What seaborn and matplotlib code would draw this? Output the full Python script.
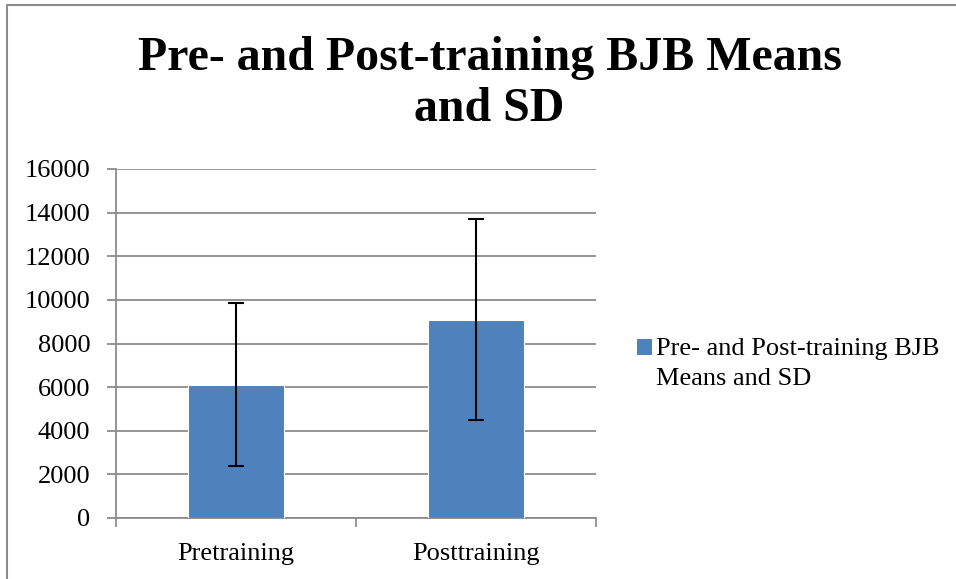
import numpy as np
import matplotlib
matplotlib.use('Agg')
import matplotlib.pyplot as plt
from matplotlib.patches import Patch, Rectangle
from matplotlib.legend_handler import HandlerPatch
from matplotlib.lines import Line2D
import pandas as pd
import seaborn as sns

# =========================
# DATA
# =========================
categories = ['Pretraining', 'Posttraining']
means = [6115, 9090]
sds = [3740, 4610]
series_label = 'Pre- and Post-training BJB\nMeans and SD'
title = 'Pre- and Post-training BJB Means\nand SD'

bar_color = '#4F81BD'
grid_color = '#8C8C8C'

df = pd.DataFrame({'phase': categories, 'value': means})

# =========================
# PLOTTING SETUP
# =========================
sns.set_theme('paper')
sns.set_style('white')
plt.rcParams['font.family'] = ['Liberation Serif', 'DejaVu Serif']
plt.rcParams['text.color'] = 'black'
plt.rcParams['xtick.color'] = 'black'
plt.rcParams['ytick.color'] = 'black'

fig = plt.figure(figsize=(9.56, 5.79), dpi=100)
ax = fig.add_axes([116 / 956, 61 / 579, 480 / 956, 349 / 579])

sns.barplot(data=df, x='phase', y='value', color=bar_color,
            saturation=1, width=0.4, errorbar=None, ax=ax, zorder=3)

ax.errorbar(x=np.arange(len(categories)), y=means, yerr=sds, fmt='none',
            ecolor='black', elinewidth=1.5, capsize=6, capthick=1.5, zorder=4)

# =========================
# FORMATTING
# =========================
ax.set_xlim(-0.5, len(categories) - 0.5)
ax.set_ylim(0, 16000)
ax.set_yticks(np.arange(0, 16001, 2000))
ax.set_xlabel('')
ax.set_ylabel('')

ax.yaxis.grid(True, color=grid_color, linewidth=1.3, zorder=0)
ax.set_axisbelow(True)
for side in ['top', 'right']:
    ax.spines[side].set_visible(False)
for side in ['left', 'bottom']:
    ax.spines[side].set_color(grid_color)
    ax.spines[side].set_linewidth(1.3)

ax.tick_params(axis='y', which='major', left=True, length=6.5, width=1.3,
               color=grid_color, pad=12, labelsize=19, labelcolor='black')
ax.tick_params(axis='x', which='major', bottom=False, pad=13,
               labelsize=19, labelcolor='black')
ax.set_xticks(np.arange(-0.5, len(categories), 1.0), minor=True)
ax.tick_params(axis='x', which='minor', bottom=True, length=6.5, width=1.3,
               color=grid_color)

fig.suptitle(title, x=0.512, y=1 - 36 / 579, fontsize=34.5, fontweight='bold',
             linespacing=1.2, va='top', color='black')


# legend square sits next to the first line of the label, like Excel does
def top_square(legend, orig_handle, xdescent, ydescent, width, height, fontsize):
    return Rectangle((-xdescent, -ydescent + 11.5), width, height)


handle = Patch(facecolor=bar_color, edgecolor='none')
leg = fig.legend([handle], [series_label], loc='center left',
                 bbox_to_anchor=(624 / 956, 1 - 364 / 579), frameon=False,
                 fontsize=19, handlelength=0.55, handleheight=0.55,
                 handletextpad=0.15, borderpad=0, labelcolor='black',
                 handler_map={Patch: HandlerPatch(patch_func=top_square)})
for t in leg.get_texts():
    t.set_linespacing(1.45)

# chart frame (partly cropped in the original)
fig.add_artist(Line2D([7 / 956, 7 / 956], [0, 1 - 5 / 579],
                      transform=fig.transFigure, color=grid_color, linewidth=1.5))
fig.add_artist(Line2D([7 / 956, 1], [1 - 5 / 579, 1 - 5 / 579],
                      transform=fig.transFigure, color=grid_color, linewidth=1.5))

fig.savefig('out.png', dpi=100)
